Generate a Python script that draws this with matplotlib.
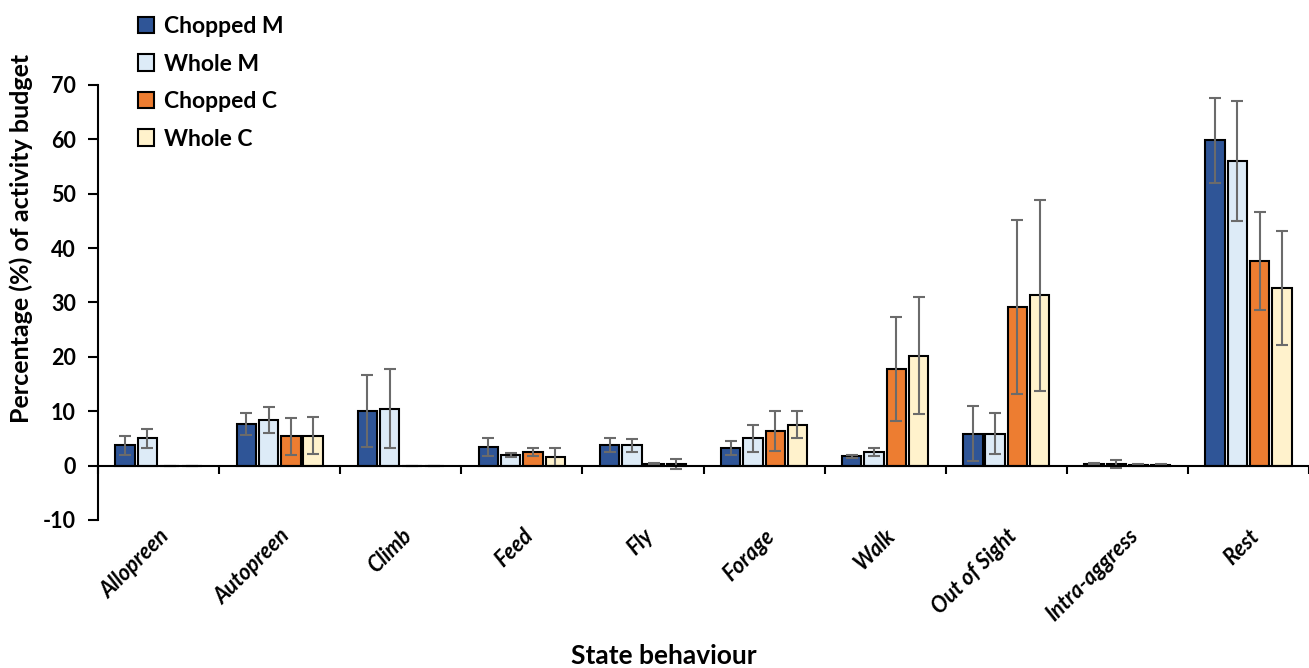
import matplotlib.pyplot as plt
import numpy as np

plt.rcParams['font.family'] = ['Lato', 'DejaVu Sans']
plt.rcParams['axes.unicode_minus'] = False

# Behaviour categories
behaviours = ['Allopreen', 'Autopreen', 'Climb', 'Feed', 'Fly', 'Forage',
              'Walk', 'Out of Sight', 'Intra-aggress', 'Rest']

# Mean percentage of activity budget for each group
chopped_m = [3.7, 7.6, 10.1, 3.4, 3.8, 3.3, 1.7, 5.9, 0.3, 59.8]
whole_m = [5.0, 8.4, 10.5, 2.0, 3.7, 5.0, 2.5, 5.9, 0.3, 56.0]
chopped_c = [0.0, 5.4, 0.0, 2.5, 0.25, 6.3, 17.8, 29.2, 0.1, 37.6]
whole_c = [0.0, 5.5, 0.0, 1.6, 0.3, 7.5, 20.2, 31.3, 0.1, 32.6]

# Error bar half-widths
chopped_m_err = [1.7, 2.0, 6.6, 1.6, 1.3, 1.3, 0.3, 5.0, 0.2, 7.8]
whole_m_err = [1.7, 2.4, 7.2, 0.4, 1.2, 2.5, 0.8, 3.8, 0.8, 11.0]
chopped_c_err = [0.0, 3.4, 0.0, 0.7, 0.2, 3.7, 9.6, 16.0, 0.2, 9.0]
whole_c_err = [0.0, 3.4, 0.0, 1.6, 0.9, 2.5, 10.8, 17.6, 0.2, 10.5]

series = [
    ('Chopped M', chopped_m, chopped_m_err, '#2F5597'),
    ('Whole M', whole_m, whole_m_err, '#DDEBF7'),
    ('Chopped C', chopped_c, chopped_c_err, '#ED7D31'),
    ('Whole C', whole_c, whole_c_err, '#FFF2CC'),
]

fig = plt.figure(figsize=(13.09, 6.68), dpi=100)
ax = fig.add_axes([0.0749, 0.2216, 0.9251, 0.6512])

x = np.arange(len(behaviours))
step = 0.184
width = 0.16

for i, (name, vals, errs, color) in enumerate(series):
    ax.bar(x + (i - 1.5) * step, vals, width, yerr=errs, color=color,
           edgecolor='black', linewidth=1.5, label=name,
           error_kw=dict(ecolor='#6b6b6b', elinewidth=1.5, capsize=4, capthick=1.5))

ax.set_xlim(-0.5, len(behaviours) - 0.5)
ax.set_ylim(-10, 70)
ax.set_yticks(range(-10, 71, 10))

ax.spines['top'].set_visible(False)
ax.spines['right'].set_visible(False)
ax.spines['left'].set_linewidth(1.5)
ax.spines['bottom'].set_linewidth(1.5)
ax.spines['bottom'].set_position(('data', 0))

ax.set_xticks(x)
ax.set_xticklabels(behaviours, rotation=45, ha='right', rotation_mode='anchor',
                   fontsize=15.5, fontweight='bold', fontstyle='italic')
ax.set_xticks(np.arange(-0.5, len(behaviours)), minor=True)
ax.tick_params(axis='x', which='major', length=0, pad=43)
ax.tick_params(axis='x', which='minor', length=6, width=1.5, direction='out')
ax.tick_params(axis='y', length=7, width=1.5, direction='out', labelsize=15.5, pad=9)
for lab in ax.get_yticklabels():
    lab.set_fontweight('bold')

ax.set_ylabel('Percentage (%) of activity budget', fontsize=18, fontweight='bold')
ax.yaxis.set_label_coords(-0.054, 0.647)
fig.text(0.507, 0.018, 'State behaviour', ha='center', va='center',
         fontsize=19, fontweight='bold')

fig.legend(loc='upper left', bbox_to_anchor=(0.093, 1.0), frameon=False,
           prop={'size': 16.5, 'weight': 'bold'}, handlelength=0.7, handleheight=0.7,
           handletextpad=0.45, labelspacing=0.72, borderpad=0.2)

fig.savefig('out.png', dpi=100)
